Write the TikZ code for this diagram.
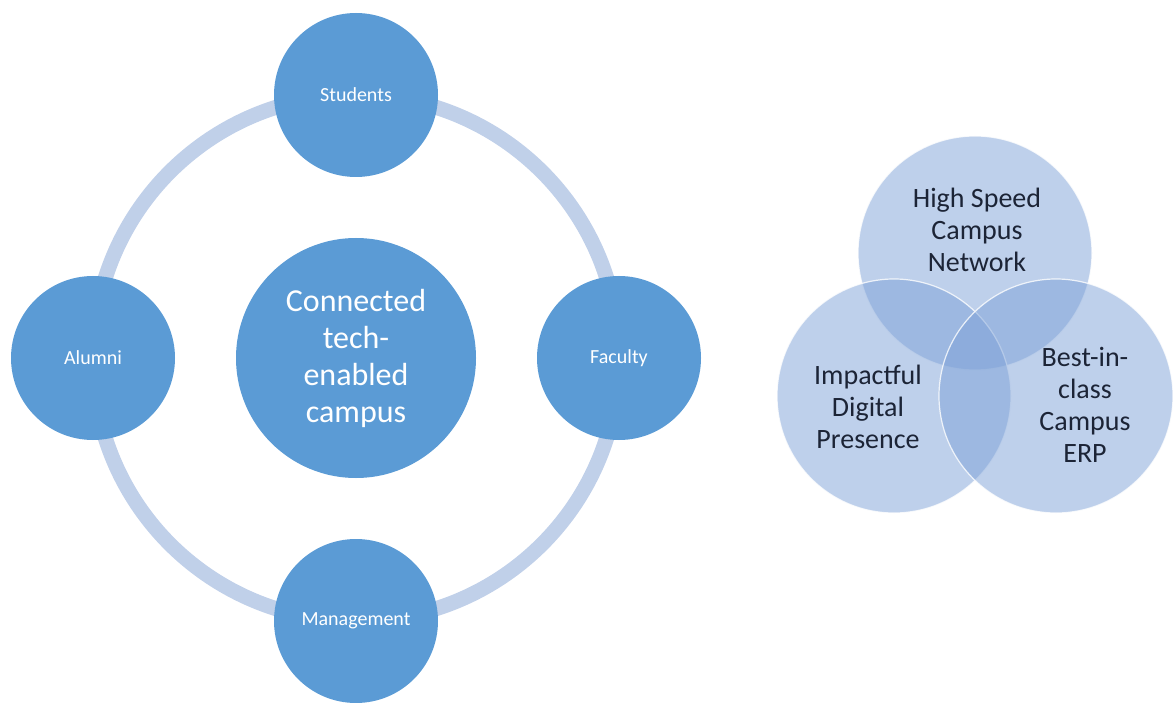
\documentclass[tikz,border=0pt]{standalone}
\usepackage{fontspec}
\setmainfont{Carlito}
\usetikzlibrary{backgrounds}
\definecolor{satblue}{RGB}{91,155,213}
\definecolor{ringblue}{RGB}{192,208,233}
\definecolor{vennblue}{RGB}{125,161,215}
\definecolor{venntext}{RGB}{28,36,54}
\begin{document}
\begin{tikzpicture}[x=1pt,y=-1pt,
  sat/.style={circle, fill=satblue, minimum size=164pt, inner sep=0pt, text=white, font=\fontsize{20}{24}\selectfont},
  hub/.style={circle, fill=satblue, minimum size=240pt, inner sep=0pt, text=white, align=center, font=\fontsize{32}{37}\selectfont},
  ring/.style={draw=ringblue, line width=15pt},
  venn/.style={circle, fill=vennblue, fill opacity=0.5, draw=white, draw opacity=0.8, line width=1.2pt, minimum size=234pt, inner sep=0pt},
  vtext/.style={text=venntext, align=center, font=\fontsize{28}{32}\selectfont}]
\useasboundingbox (0,0) rectangle (1173,703);
\node[hub] (hub) at (356,358) {Connected\\tech-\\enabled\\campus};
\node[sat] (stu) at (356,95) {Students};
\node[sat] (fac) at (619,358) {Faculty};
\node[sat] (man) at (356,621) {Management};
\node[sat] (alu) at (93,358) {Alumni};
\begin{scope}[on background layer]
\draw[ring] (stu.center) to[bend right=45] (alu.center) to[bend right=45] (man.center) to[bend right=45] (fac.center) to[bend right=45] (stu.center);
\end{scope}
\node[venn] (net) at (975,253) {};
\node[venn] (dig) at (894,396) {};
\node[venn] (erp) at (1056,396) {};
\node[vtext] (nett) at (977,230) {High Speed\\Campus\\Network};
\node[vtext] (digt) at (868,407) {Impactful\\Digital\\Presence};
\node[vtext] (erpt) at (1085,405) {Best-in-\\class\\Campus\\ERP};
\end{tikzpicture}
\end{document}
